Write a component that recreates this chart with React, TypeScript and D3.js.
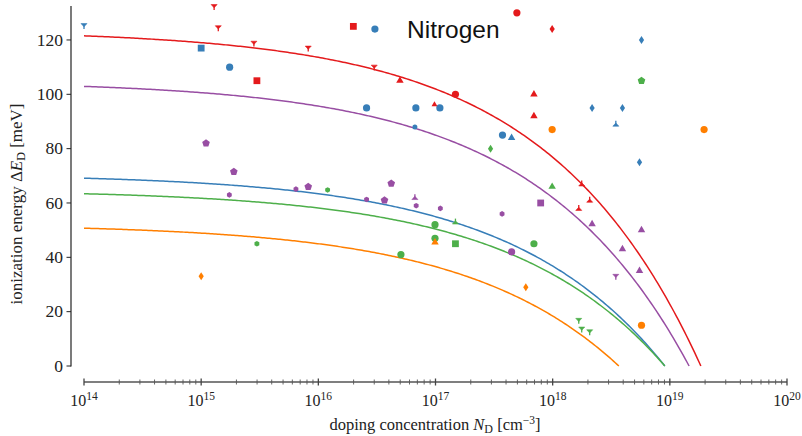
import React from "react";
import * as d3 from "d3";

const W = 802;
const H = 436;

// fit curves: dE(N) = E0 * (1 - (N/Nc)^(1/3))
const fitColors = ["#e41a1c", "#984ea3", "#377eb8", "#4daf4a", "#ff7f00"];
const fitE0 = [123.7, 104.9, 70.7, 64.85, 52.3];
const fitNc = [1.84e19, 1.46e19, 9.06e18, 9.06e18, 3.67e18];

// measured points: [N (cm^-3), dE (meV), marker]
type P = [number, number, string];
const bluePts: P[] = [
  [1e14, 125.3, "tridown"], [1e15, 117, "square"], [1.75e15, 110, "circle"],
  [3.04e16, 124, "circle"], [2.58e16, 95, "circle"], [6.8e16, 95, "circle"],
  [1.09e17, 95, "circle"], [6.67e16, 88, "smallcircle"], [3.73e17, 85, "circle"],
  [4.46e17, 84, "triangle"], [5.73e18, 120, "diamond"], [2.17e18, 95, "diamond"],
  [3.94e18, 95, "diamond"], [3.46e18, 89, "triup"], [5.51e18, 75, "diamond"],
];
const redPts: P[] = [
  [1.29e15, 132.3, "tridown"], [1.4e15, 124.5, "tridown"], [2.82e15, 118.8, "tridown"],
  [2.99e15, 105, "square"], [1.99e16, 125, "square"], [8.2e15, 117, "tridown"],
  [3.0e16, 110, "tridown"], [4.97e16, 105, "triangle"], [4.95e17, 130, "circle"],
  [1.48e17, 100, "circle"], [9.8e16, 96.2, "smalltriangle"], [6.92e17, 100, "triangle"],
  [6.92e17, 92, "triangle"], [9.9e17, 124, "diamond"], [1.77e18, 67, "triup"],
  [2.07e18, 61, "triup"], [1.67e18, 58, "triup"],
];
const greenPts: P[] = [
  [2.99e15, 45, "smallhex"], [1.2e16, 64.8, "smallhex"], [2.95e17, 80, "diamond"],
  [9.9e16, 52, "circle"], [1.48e17, 53, "triup"], [9.9e16, 47, "circle"],
  [1.48e17, 45, "square"], [5.07e16, 41, "circle"], [6.92e17, 45, "circle"],
  [9.9e17, 66, "triangle"], [5.73e18, 105, "pentagon"], [1.67e18, 16.8, "tridown"],
  [1.77e18, 13.6, "tridown"], [2.07e18, 12.6, "tridown"],
];
const purplePts: P[] = [
  [1.1e15, 82, "pentagon"], [1.9e15, 71.5, "pentagon"], [1.74e15, 63, "smallhex"],
  [6.44e15, 65.1, "smallhex"], [8.2e15, 66, "pentagon"], [4.19e16, 67.2, "pentagon"],
  [2.58e16, 61.3, "smallhex"], [3.67e16, 61, "pentagon"], [6.67e16, 62, "triup"],
  [6.84e16, 59, "smallhex"], [1.1e17, 58, "smallhex"], [3.7e17, 56, "smallhex"],
  [4.46e17, 42, "circle"], [7.9e17, 60, "square"], [2.17e18, 52.2, "triangle"],
  [5.73e18, 50, "triangle"], [3.94e18, 43, "triangle"], [5.51e18, 35, "triangle"],
  [3.46e18, 33, "tridown"],
];
const orangePts: P[] = [
  [1e15, 33, "diamond"], [9.9e16, 45.5, "triangle"], [5.9e17, 29, "diamond"],
  [9.9e17, 87, "circle"], [1.96e19, 87, "circle"], [5.73e18, 15, "circle"],
];
const pointSets: [P[], string][] = [
  [bluePts, "#377eb8"], [greenPts, "#4daf4a"], [purplePts, "#984ea3"],
  [orangePts, "#ff7f00"], [redPts, "#e41a1c"],
];

const xTickExps = [14, 15, 16, 17, 18, 19, 20];
const yTicks = [0, 20, 40, 60, 80, 100, 120];

const xs = d3.scaleLog().domain([1e14, 1e20]).range([84, 787]);
const ys = d3.scaleLinear().domain([0, 132.5]).range([366, 6]);

function poly(n: number, r: number, rot: number) {
  const pts = d3.range(n).map((i) => {
    const a = rot + (i * 2 * Math.PI) / n;
    return [r * Math.cos(a), r * Math.sin(a)];
  });
  return "M" + pts.map((p) => p[0].toFixed(2) + "," + p[1].toFixed(2)).join("L") + "Z";
}

function Marker({ x, y, kind, color }: { x: number; y: number; kind: string; color: string }) {
  const t = `translate(${x},${y})`;
  switch (kind) {
    case "circle":
      return <circle cx={x} cy={y} r={3.6} fill={color} />;
    case "smallcircle":
      return <circle cx={x} cy={y} r={2.5} fill={color} />;
    case "square":
      return <rect x={x - 3.4} y={y - 3.4} width={6.8} height={6.8} fill={color} />;
    case "triangle":
      return <path transform={t} d={poly(3, 4.3, -Math.PI / 2)} fill={color} />;
    case "smalltriangle":
      return <path transform={t} d={poly(3, 3.4, -Math.PI / 2)} fill={color} />;
    case "pentagon":
      return <path transform={t} d={poly(5, 4.0, -Math.PI / 2)} fill={color} />;
    case "smallhex":
      return <path transform={t} d={poly(6, 2.8, -Math.PI / 2)} fill={color} />;
    case "diamond":
      return <path transform={t} d="M0,-4L2.6,0L0,4L-2.6,0Z" fill={color} />;
    case "tridown":
      return (
        <g transform={t} fill={color} stroke={color}>
          <path d="M-3,-2L3,-2L0,1.2Z" strokeWidth={0.6} />
          <path d="M0,0L0,3.4" strokeWidth={1.3} fill="none" />
        </g>
      );
    case "triup":
      return (
        <g transform={t} fill={color} stroke={color}>
          <path d="M-3,2L3,2L0,-1.2Z" strokeWidth={0.6} />
          <path d="M0,0L0,-3.4" strokeWidth={1.3} fill="none" />
        </g>
      );
    default:
      return null;
  }
}

export default function App() {
  const line = d3
    .line<number>()
    .x((d) => xs(d[0]))
    .y((d) => ys(d[1]));

  const curves = fitE0.map((E0, i) => {
    const Nc = fitNc[i];
    const lo = 14;
    const hi = Math.log10(Nc);
    const pts = d3.range(0, 301).map((k) => {
      const N = Math.pow(10, lo + ((hi - lo) * k) / 300);
      return [N, E0 * (1 - Math.cbrt(N / Nc))];
    });
    return <path key={i} d={line(pts as any) || ""} fill="none" stroke={fitColors[i]} strokeWidth={1.5} />;
  });

  const minorTicks: number[] = [];
  for (let e = 14; e < 20; e++) for (let m = 2; m <= 9; m++) minorTicks.push(m * Math.pow(10, e));

  const serif = "'Liberation Serif', 'Times New Roman', serif";

  return (
    <svg width={W} height={H} style={{ position: "absolute", left: 0, top: 0, background: "#fff" }} fontFamily={serif}>
      <rect x={0} y={0} width={W} height={H} fill="#fff" />
      {/* y axis */}
      <line x1={71} x2={71} y1={6} y2={366.5} stroke="#222" strokeWidth={1.2} />
      {yTicks.map((v) => (
        <g key={v}>
          <line x1={66.5} x2={71} y1={ys(v)} y2={ys(v)} stroke="#222" strokeWidth={1} />
          <text x={63} y={ys(v) + 5.8} textAnchor="end" fontSize={17.5} fill="#222">
            {v}
          </text>
        </g>
      ))}
      {/* x axis */}
      <line x1={84} x2={787} y1={382} y2={382} stroke="#555" strokeWidth={1.6} />
      {minorTicks.map((v, i) => (
        <line key={i} x1={xs(v)} x2={xs(v)} y1={379.5} y2={384.5} stroke="#555" strokeWidth={0.9} />
      ))}
      {xTickExps.map((e) => (
        <g key={e}>
          <line x1={xs(Math.pow(10, e))} x2={xs(Math.pow(10, e))} y1={378.5} y2={385.5} stroke="#444" strokeWidth={1.3} />
          <text x={xs(Math.pow(10, e))} y={406} textAnchor="middle" fontSize={16} fill="#222">
            <tspan>10</tspan>
            <tspan dy={-6} fontSize={11.5}>
              {e}
            </tspan>
          </text>
        </g>
      ))}
      {/* curves */}
      {curves}
      {/* points */}
      {pointSets.map(([pts, c], si) =>
        pts.map((p, i) => <Marker key={si + "-" + i} x={xs(p[0])} y={ys(p[1])} kind={p[2]} color={c} />)
      )}
      {/* labels */}
      <text x={435} y={430} textAnchor="middle" fontSize={16.5} fill="#222">
        <tspan>doping concentration </tspan>
        <tspan fontStyle="italic">N</tspan>
        <tspan dy={3} fontSize={12}>D</tspan>
        <tspan dy={-3}> [cm</tspan>
        <tspan dy={-6} fontSize={11.5}>−3</tspan>
        <tspan dy={6}>]</tspan>
      </text>
      <text transform="translate(22,204) rotate(-90)" textAnchor="middle" fontSize={17} fill="#222">
        <tspan>ionization energy Δ</tspan>
        <tspan fontStyle="italic">E</tspan>
        <tspan dy={3} fontSize={12}>D</tspan>
        <tspan dy={-3}> [meV]</tspan>
      </text>
      <text x={407} y={38} fontSize={24.5} fontFamily="'Liberation Sans', Arial, sans-serif" fill="#111">
        Nitrogen
      </text>
    </svg>
  );
}
